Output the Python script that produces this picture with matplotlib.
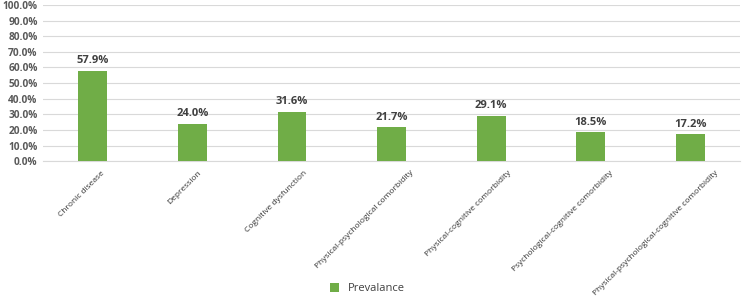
import matplotlib.pyplot as plt
from matplotlib.ticker import FuncFormatter
from matplotlib.transforms import ScaledTranslation

categories = ['Chronic disease', 'Depression', 'Cognitive dysfunction',
              'Physical-psychological comorbidity', 'Physical-cognitive comorbidity',
              'Psychological-cognitive comorbidity', 'Physical-psychological-cognitive comorbidity']
prevalence = [57.9, 24.0, 31.6, 21.7, 29.1, 18.5, 17.2]

plt.rcParams['font.family'] = ['Open Sans', 'DejaVu Sans']

fig = plt.figure(figsize=(7.43, 3.0), dpi=100)
ax = fig.add_axes([0.058, 0.463, 0.938, 0.52])

x = range(len(categories))
bars = ax.bar(x, prevalence, width=0.29, color='#70AD47', label='Prevalance', zorder=3)

for xi, v in zip(x, prevalence):
    ax.text(xi, v + 3, f'{v:.1f}%', ha='center', va='bottom',
            fontsize=8, fontweight='bold', color='#404040')

ax.set_xlim(-0.5, len(categories) - 0.5)
ax.set_ylim(0, 100)
ax.set_yticks(range(0, 101, 10))
ax.yaxis.set_major_formatter(FuncFormatter(lambda v, p: f'{v:.1f}%'))
ax.grid(axis='y', color='#D9D9D9', linewidth=0.8, zorder=0)

ax.set_xticks(list(x))
ax.set_xticklabels(categories, rotation=45, ha='right', rotation_mode='anchor',
                   fontsize=6, color='#333333')
ax.tick_params(axis='x', length=0, pad=6)
ax.tick_params(axis='y', length=0, labelsize=7.3, labelcolor='#595959', pad=4)
for lab in ax.get_yticklabels():
    lab.set_fontweight('bold')
# Excel shifts longer rotated labels further to the right
for lab in ax.get_xticklabels():
    shift = 0.55 * len(lab.get_text()) / 100
    lab.set_transform(lab.get_transform() + ScaledTranslation(shift, 0, fig.dpi_scale_trans))

for s in ['top', 'right', 'left']:
    ax.spines[s].set_visible(False)
ax.spines['bottom'].set_color('#D9D9D9')

fig.legend(handles=[bars], labels=['Prevalance'], loc='center', bbox_to_anchor=(0.495, 0.037),
           frameon=False, fontsize=8, handlelength=0.8, handleheight=0.8, labelcolor='#404040')

plt.savefig('out.png', dpi=100)
